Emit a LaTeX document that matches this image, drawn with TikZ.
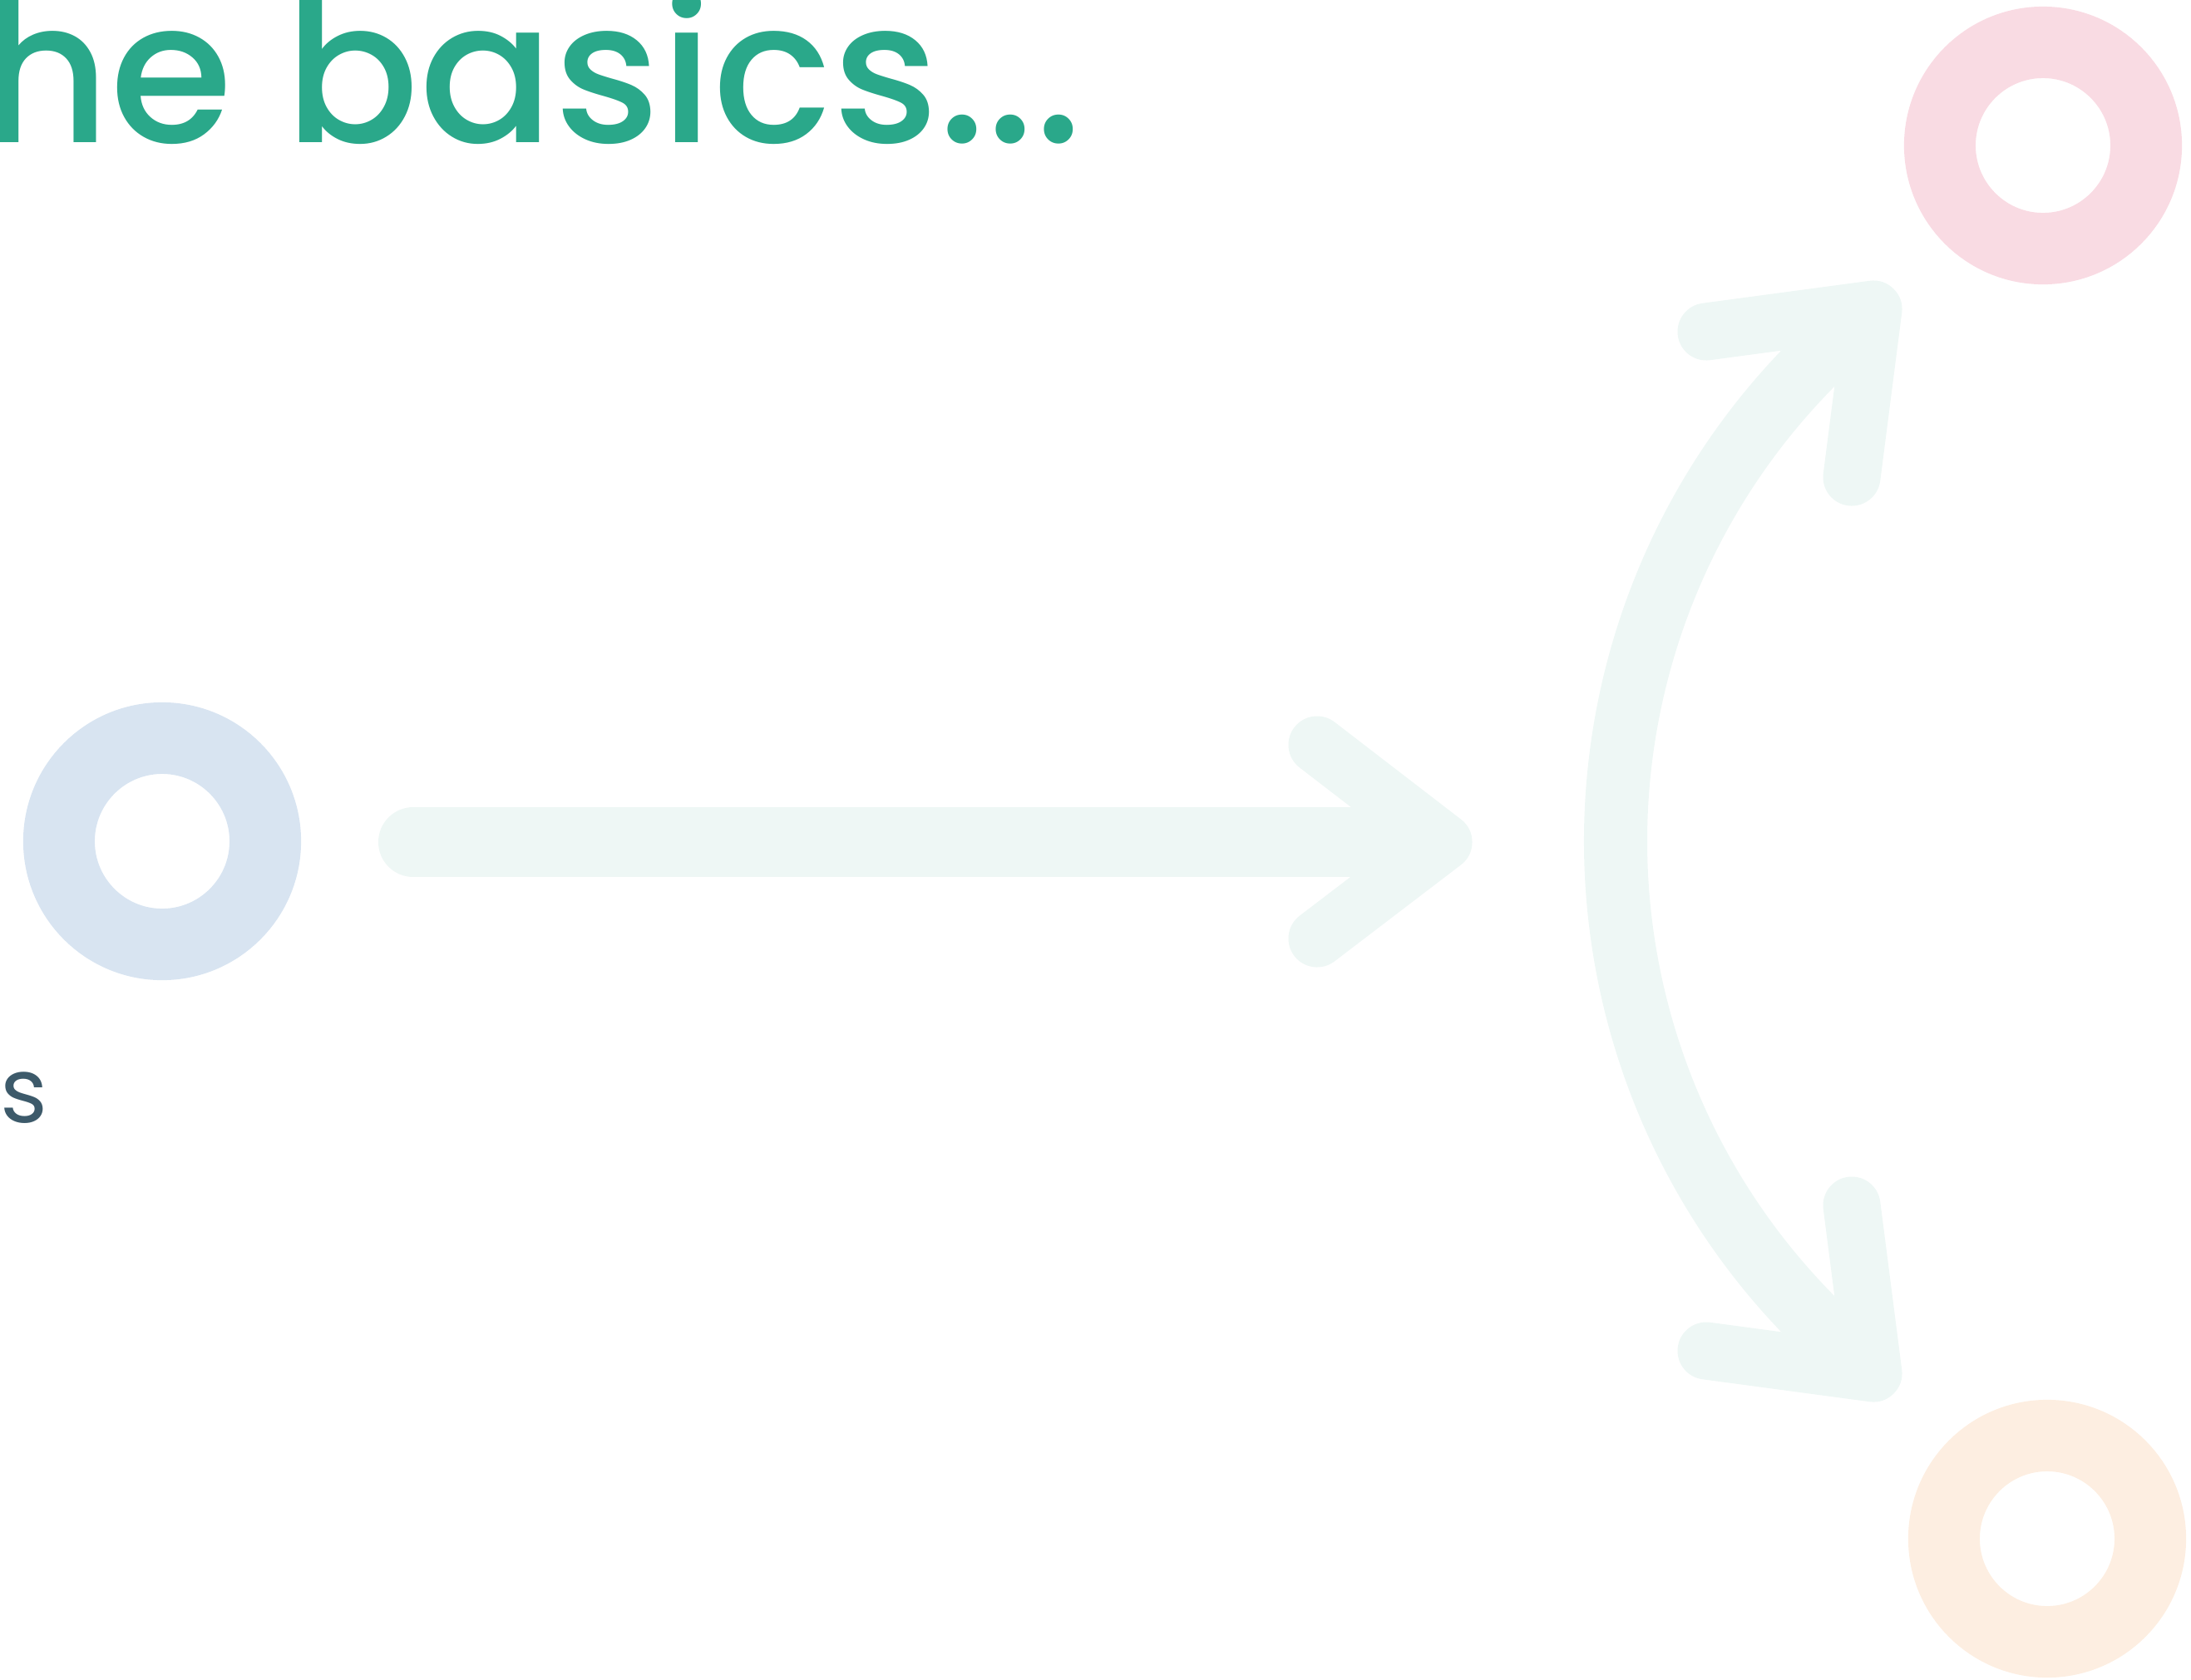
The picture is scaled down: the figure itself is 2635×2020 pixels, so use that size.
\documentclass[tikz,border=0pt]{standalone}
\usepackage{fontspec}
\usepackage{xcolor}
\usepackage{tikz}
\IfFontExistsTF{Poppins Medium}
  {\newfontfamily\poppins{Poppins Medium}}
  {\newfontfamily\poppins{Poppins}[FakeBold=0.6]}
\newfontfamily\poppinsreg{Poppins}
\definecolor{bsGreen}{HTML}{2AA88A}
\definecolor{bsSlate}{HTML}{3D5A6A}
\definecolor{bsMint}{HTML}{EEF7F5}
\definecolor{bsBlue}{HTML}{D8E4F1}
\definecolor{bsPink}{HTML}{F9DBE3}
\definecolor{bsPeach}{HTML}{FDEEE1}
\tikzset{
  ring/.style={
    draw=#1, circle, line width=8.6mm, minimum size=24.8mm, inner sep=0pt
  },
  shaft/.style={draw=bsMint, line width=8.4mm, line cap=round},
  headline/.style={draw=bsMint, line width=6.9mm, line cap=round, line join=round},
  bentline/.style={draw=bsMint, line width=7.6mm, line cap=round},
  title/.style={
    font=\poppins\fontsize{68}{80}\selectfont, text=bsGreen, inner sep=0pt
  },
  note/.style={font=\poppinsreg\fontsize{31}{36}\selectfont, text=bsSlate, inner sep=0pt}
}

\begin{document}
\begin{tikzpicture}[x=0.01cm, y=-0.01cm]
  \useasboundingbox (0,0) rectangle (2635,2020);
  \clip (0,0) rectangle (2635,2020);
  % heading and side note
  \node[title, anchor=base west] (title) at (-23,171) {he basics...};
  \node[note, anchor=base west] (note) at (0,1350) {s};
  % the three rings
  \node[ring=bsBlue] (src) at (195,1012) {};
  \node[ring=bsPink] (top) at (2457,175) {};
  \node[ring=bsPeach] (bot) at (2462,1851) {};
  % straight arrow
  \coordinate (h-start) at (497,1013);
  \coordinate (h-end) at (1700,1013);
  \coordinate (h-tip) at (1736,1013);
  \draw[shaft] (h-start) -- (h-end);
  \draw[headline] (h-tip) ++(-152,-117) -- (h-tip) -- ++(-152,116);
  % bent double arrow
  \coordinate (up-tip) at (2253,372);
  \coordinate (dn-tip) at (2253,1652);
  \draw[bentline] (2758,1012) ++(229:815) arc[start angle=229, end angle=131, radius=815];
  \draw[headline] (up-tip) ++(-201,27) -- (up-tip) -- ++(-26,202);
  \draw[headline] (dn-tip) ++(-201,-27) -- (dn-tip) -- ++(-26,-202);
\end{tikzpicture}
\end{document}
